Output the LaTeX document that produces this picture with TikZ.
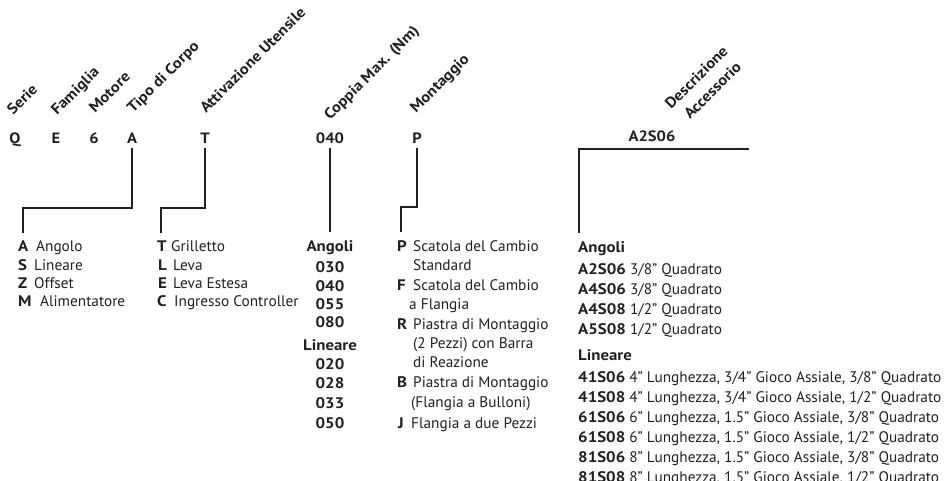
\documentclass[tikz,border=0pt]{standalone}
\usepackage{fontspec}
\setmainfont{PT Sans}[Ligatures=ResetAll, BoldFeatures={FakeStretch=1.1}]
\definecolor{ink}{HTML}{231F20}
\tikzset{
  hdr/.style={rotate=45, anchor=base west, inner sep=0pt, font=\bfseries\fontsize{15}{17}\selectfont, text=ink},
  code/.style={anchor=base, inner xsep=0pt, inner ysep=5pt, font=\bfseries\fontsize{15}{17}\selectfont, text=ink},
  item/.style={anchor=base west, inner sep=0pt, font=\fontsize{15.3}{17}\selectfont, text=ink},
  litem/.style={anchor=base west, inner sep=0pt, font=\bfseries\fontsize{15.3}{17}\selectfont, text=ink},
  citem/.style={anchor=base, inner sep=0pt, font=\bfseries\fontsize{15.3}{17}\selectfont, text=ink},
  conn/.style={draw=ink, line width=2pt},
}
\begin{document}
\begin{tikzpicture}[x=1pt,y=-1pt]
\useasboundingbox (0,0) rectangle (944,480);
% headers
\node[hdr] (hSerie) at (13,116) {Serie};
\node[hdr] (hFam) at (57,116) {Famiglia};
\node[hdr] (hMot) at (95,114) {Motore};
\node[hdr] (hTipo) at (133,114) {Tipo di Corpo};
\node[hdr] (hAtt) at (206,114) {Attivazione Utensile};
\node[hdr] (hCop) at (330,121) {Coppia Max. (Nm)};
\node[hdr] (hMon) at (416,114) {Montaggio};
\node[hdr] (hDes) at (671,110) {Descrizione};
\node[hdr] (hAcc) at (690,120) {Accessorio};
% codes
\node[code] (cQ) at (15,143) {Q};
\node[code] (cE) at (56,143) {E};
\node[code] (c6) at (94,143) {6};
\node[code] (cA) at (132,143) {A};
\node[code] (cT) at (205,143) {T};
\node[code] (cC) at (330,143) {040};
\node[code] (cP) at (417,143) {P};
\node[code] (cX) at (652,141) {A2S06};
% connector coordinates
\coordinate (jA) at (23,208);
\coordinate (eA) at (23,233);
\coordinate (jT) at (161,208);
\coordinate (eT) at (161,233);
\coordinate (eC) at (330,232);
\coordinate (jP) at (401,207);
\coordinate (eP) at (401,232);
\coordinate (aR) at (749,149);
\coordinate (aL) at (579,149);
\coordinate (aE) at (579,233);
\draw[conn] (cA.south) |- (jA) -- (eA);
\draw[conn] (cT.south) |- (jT) -- (eT);
\draw[conn] (cC.south) -- (eC);
\draw[conn] (cP.south) |- (jP) -- (eP);
\draw[conn] (aR) -- (aL) -- (aE);
% column 1
\node[litem] (aA) at (18,251) {A};
\node[item] (a1) at (36,251) {Angolo};
\node[litem] (aS) at (18,270) {S};
\node[item] (a2) at (34,270) {Lineare};
\node[litem] (aZ) at (18,288) {Z};
\node[item] (a3) at (34,288) {Offset};
\node[litem] (aM) at (18,306) {M};
\node[item] (a4) at (40,306) {Alimentatore};
% column 2
\node[litem] (tT) at (157,251) {T};
\node[item] (t1) at (171,251) {Grilletto};
\node[litem] (tL) at (158,270) {L};
\node[item] (t2) at (173,270) {Leva};
\node[litem] (tE) at (158,288) {E};
\node[item] (t3) at (173,288) {Leva Estesa};
\node[litem] (tC) at (157,306) {C};
\node[item] (t4) at (174,306) {Ingresso Controller};
% column 3
\node[citem] (n0) at (330,251) {Angoli};
\node[citem] (n1) at (330,272) {030};
\node[citem] (n2) at (330,291) {040};
\node[citem] (n3) at (330,309) {055};
\node[citem] (n4) at (330,327) {080};
\node[citem] (n5) at (330,350) {Lineare};
\node[citem] (n6) at (330,369) {020};
\node[citem] (n7) at (330,388) {028};
\node[citem] (n8) at (330,408) {033};
\node[citem] (n9) at (330,428) {050};
% column 4
\node[litem] (pP) at (397,251) {P};
\node[item] (p1) at (413,251) {Scatola del Cambio};
\node[item] (p2) at (413,270) {Standard};
\node[litem] (pF) at (397,290) {F};
\node[item] (p3) at (413,290) {Scatola del Cambio};
\node[item] (p4) at (409,309) {a Flangia};
\node[litem] (pR) at (397,329) {R};
\node[item] (p5) at (413,329) {Piastra di Montaggio};
\node[item] (p6) at (413,348) {(2 Pezzi) con Barra};
\node[item] (p7) at (413,367) {di Reazione};
\node[litem] (pB) at (397,387) {B};
\node[item] (p8) at (413,387) {Piastra di Montaggio};
\node[item] (p9) at (411,407) {(Flangia a Bulloni)};
\node[litem] (pJ) at (398,428) {J};
\node[item] (p10) at (411,428) {Flangia a due Pezzi};
% column 5
\node[litem] (x0) at (578,252) {Angoli};
\node[item] (x1) at (578,274) {\textbf{A2S06} 3/8" Quadrato};
\node[item] (x2) at (578,294) {\textbf{A4S06} 3/8" Quadrato};
\node[item] (x3) at (578,314) {\textbf{A4S08} 1/2" Quadrato};
\node[item] (x4) at (578,334) {\textbf{A5S08} 1/2" Quadrato};
\node[litem] (x5) at (578,360) {Lineare};
\node[item] (x6) at (578,382) {\textbf{41S06} 4" Lunghezza, 3/4" Gioco Assiale, 3/8" Quadrato};
\node[item] (x7) at (578,402) {\textbf{41S08} 4" Lunghezza, 3/4" Gioco Assiale, 1/2" Quadrato};
\node[item] (x8) at (578,422) {\textbf{61S06} 6" Lunghezza, 1.5" Gioco Assiale, 3/8" Quadrato};
\node[item] (x9) at (578,442) {\textbf{61S08} 6" Lunghezza, 1.5" Gioco Assiale, 1/2" Quadrato};
\node[item] (x10) at (578,462) {\textbf{81S06} 8" Lunghezza, 1.5" Gioco Assiale, 3/8" Quadrato};
\node[item] (x11) at (578,482) {\textbf{81S08} 8" Lunghezza, 1.5" Gioco Assiale, 1/2" Quadrato};
\end{tikzpicture}
\end{document}
